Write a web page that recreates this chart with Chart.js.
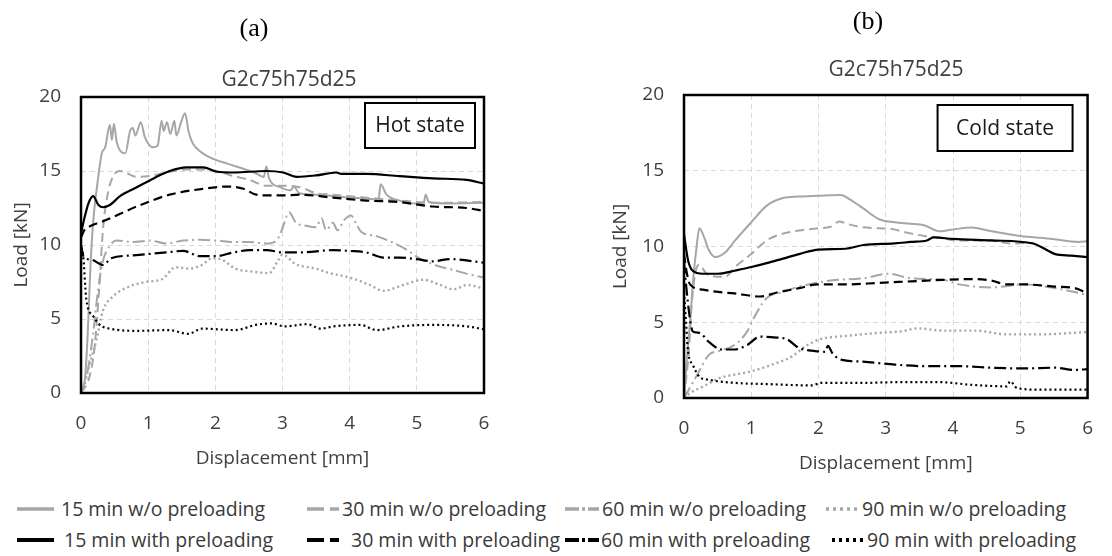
<!DOCTYPE html>
<html>
<head>
<meta charset="utf-8">
<script src="https://cdn.jsdelivr.net/npm/chart.js@4.4.1/dist/chart.umd.min.js"></script>
<style>
  html, body { margin: 0; padding: 0; background: #fff; }
  body { width: 1112px; height: 556px; position: relative; overflow: hidden;
         font-family: 'Open Sans', sans-serif; color: #404040; }
  canvas { position: absolute; top: 0; }
  .tag { position: absolute; transform: translate(-50%, -50%); white-space: nowrap;
         font-family: 'Liberation Serif', 'Times New Roman', serif; font-size: 26px; color: #000; }
  .ttl { position: absolute; transform: translate(-50%, -50%); white-space: nowrap;
         font-size: 21px; color: #404040; }
  .sw { position: absolute; }
  .lt { position: absolute; white-space: nowrap; font-size: 19.5px; line-height: 28px; color: #3a3a3a; }
</style>
</head>
<body>
<canvas id="hot" width="556" height="480" style="left:0"></canvas>
<canvas id="cold" width="556" height="485" style="left:556px"></canvas>
<div id="deco"></div>

<script>
// ---- axis ticks and labels ----
const dispTicks = [0, 1, 2, 3, 4, 5, 6];          // Displacement [mm]
const loadTicks = [0, 5, 10, 15, 20];             // Load [kN]
const panelTags = ['(a)', '(b)'];
const specimen = 'G2c75h75d25';
const stateLabels = ['Hot state', 'Cold state'];
const durations = ['15', '30', '60', '90'];
const nameWithout = ['15 min w/o preloading', '30 min w/o preloading', '60 min w/o preloading', '90 min w/o preloading'];
const nameWith = ['15 min with preloading', '30 min with preloading', '60 min with preloading', '90 min with preloading'];

// ---- hot state: [displacement mm, load kN] ----
const hot15wo = [[0,0],[0.06,1],[0.1,4],[0.14,8.5],[0.18,11.5],[0.24,14],[0.31,16.2],[0.36,16.6],[0.43,18.1],[0.46,17.1],[0.49,18.2],[0.53,17.0],[0.66,16.2],[0.73,17.7],[0.77,17.9],[0.81,17.4],[0.89,18.3],[0.95,17.3],[1.07,16.6],[1.14,16.7],[1.2,18.4],[1.23,17.7],[1.28,18.3],[1.33,17.5],[1.39,18.4],[1.42,17.4],[1.49,18.3],[1.55,18.9],[1.6,17.7],[1.66,16.9],[1.78,16.3],[1.98,15.8],[2.18,15.5],[2.38,15.2],[2.58,14.9],[2.72,14.6],[2.76,15.3],[2.8,14.5],[2.97,13.9],[3.12,13.7],[3.17,13.95],[3.25,13.5],[3.5,13.4],[3.75,13.3],[4.0,13.2],[4.25,13.15],[4.43,13.05],[4.46,14.1],[4.55,13.4],[4.74,13.0],[4.98,12.8],[5.1,12.8],[5.13,13.4],[5.18,12.9],[5.5,12.8],[6,12.85]];
const hot30wo = [[0,0],[0.12,1],[0.2,3],[0.27,7],[0.33,11.2],[0.41,13.7],[0.5,14.8],[0.58,15.0],[0.83,14.6],[1.07,14.7],[1.32,14.95],[1.57,15.1],[1.82,15.1],[2.02,15.0],[2.27,14.65],[2.51,14.4],[2.76,14.0],[3.01,14.0],[3.26,13.9],[3.5,13.5],[3.75,13.4],[4.0,13.3],[4.25,13.2],[4.74,13.0],[5.24,12.85],[6,12.9]];
const hot60wo = [[0,0],[0.1,1.5],[0.18,4],[0.25,6.8],[0.32,8.8],[0.42,9.9],[0.53,10.3],[0.78,10.2],[1.03,10.3],[1.27,10.1],[1.52,10.3],[1.77,10.35],[2.02,10.3],[2.27,10.2],[2.51,10.2],[2.76,10.1],[2.91,10.3],[2.98,10.9],[3.1,12.2],[3.2,11.5],[3.35,11.3],[3.5,11.2],[3.58,11.8],[3.65,11.0],[3.75,11.5],[3.82,11.0],[3.92,11.7],[4.02,12.0],[4.1,11.4],[4.17,10.9],[4.4,10.6],[4.65,10.15],[4.84,9.7],[5.04,9.1],[5.3,8.6],[5.55,8.3],[5.75,8.05],[6,7.8]];
const hot90wo = [[0,0],[0.05,0.5],[0.08,1.1],[0.15,2.3],[0.23,3.6],[0.33,5.6],[0.47,6.5],[0.67,7.1],[0.96,7.5],[1.21,7.7],[1.41,8.5],[1.61,8.4],[1.8,8.65],[1.95,9.1],[2.1,9.0],[2.3,8.4],[2.55,8.2],[2.8,8.1],[2.94,9.0],[3.0,9.35],[3.2,8.7],[3.5,8.4],[3.7,8.1],[4.0,7.8],[4.3,7.3],[4.5,6.9],[4.8,7.3],[5.1,7.65],[5.35,7.3],[5.55,7.0],[5.75,7.3],[6,7.05]];
const hot15w = [[0,10.8],[0.05,11.8],[0.11,12.8],[0.18,13.3],[0.26,12.7],[0.33,12.55],[0.43,12.7],[0.58,13.3],[0.83,13.9],[1.08,14.5],[1.32,15.0],[1.57,15.25],[1.82,15.25],[2.02,14.95],[2.27,14.9],[2.76,15.0],[3.01,14.9],[3.21,14.6],[3.5,14.7],[3.8,14.9],[3.88,14.8],[4.25,14.8],[4.74,14.65],[5.24,14.5],[5.74,14.4],[6,14.15]];
const hot30w = [[0,10.5],[0.05,11.0],[0.15,11.3],[0.33,11.6],[0.83,12.6],[1.32,13.4],[1.82,13.8],[2.17,13.95],[2.42,13.8],[2.61,13.4],[2.81,13.35],[3.01,13.35],[3.26,13.4],[3.75,13.2],[4.25,13.0],[4.74,12.9],[5.24,12.6],[5.74,12.5],[6,12.3]];
const hot60w = [[0,10.0],[0.04,9.2],[0.16,9.0],[0.33,8.65],[0.45,9.1],[0.78,9.3],[1.27,9.5],[1.52,9.6],[1.77,9.25],[2.02,9.25],[2.27,9.5],[2.51,9.65],[2.76,9.65],[3.01,9.5],[3.26,9.5],[3.75,9.65],[4.0,9.6],[4.25,9.5],[4.5,9.15],[4.74,9.15],[4.99,9.05],[5.24,8.9],[5.49,9.05],[6,8.8]];
const hot90w = [[0,9.8],[0.03,9.4],[0.08,6.3],[0.18,5.2],[0.28,4.6],[0.43,4.35],[0.82,4.2],[1.31,4.25],[1.6,4.0],[1.8,4.35],[2.3,4.25],[2.6,4.6],[2.84,4.7],[3.03,4.5],[3.37,4.65],[3.57,4.35],[3.76,4.5],[4.16,4.6],[4.4,4.25],[4.75,4.5],[5.25,4.6],[5.75,4.5],[6,4.3]];

// ---- cold state: [displacement mm, load kN] ----
const cold15wo = [[0,0],[0.05,3],[0.09,5],[0.14,8],[0.18,9.7],[0.23,11.2],[0.3,10.6],[0.37,9.75],[0.47,9.3],[0.61,9.6],[0.76,10.4],[1.0,11.6],[1.23,12.7],[1.47,13.2],[1.71,13.3],[2.0,13.35],[2.33,13.4],[2.47,13.1],[2.67,12.5],[2.9,11.8],[3.13,11.6],[3.37,11.5],[3.57,11.4],[3.8,11.0],[4.04,11.15],[4.28,11.25],[4.52,11.05],[5.0,10.7],[5.48,10.5],[5.86,10.3],[6,10.35]];
const cold30wo = [[0,0],[0.07,3],[0.12,6.5],[0.18,8.5],[0.23,8.8],[0.3,8.4],[0.37,8.1],[0.61,8.0],[0.76,8.65],[1.0,9.5],[1.23,10.4],[1.47,10.85],[1.71,11.05],[2.0,11.2],[2.18,11.3],[2.31,11.65],[2.42,11.5],[2.61,11.3],[2.9,11.2],[3.09,11.15],[3.33,10.9],[3.57,10.7],[3.8,10.6],[4.04,10.4],[4.52,10.4],[4.86,10.2],[5.2,10.25]];
const cold60wo = [[0,0],[0.18,1.4],[0.37,2.85],[0.52,3.1],[0.75,3.5],[0.94,4.4],[1.04,5.3],[1.23,6.6],[1.47,7.0],[1.71,7.35],[2.18,7.75],[2.66,7.9],[3.04,8.2],[3.38,7.9],[3.85,7.8],[4.09,7.5],[4.57,7.3],[5.05,7.5],[5.52,7.25],[6,6.8]];
const cold90wo = [[0,0],[0.1,0.35],[0.3,0.8],[0.52,1.3],[0.99,1.75],[1.37,2.3],[1.61,2.75],[1.8,3.4],[2.04,3.9],[2.42,4.1],[2.9,4.3],[3.23,4.4],[3.47,4.6],[3.85,4.45],[4.33,4.45],[4.8,4.2],[5.28,4.2],[6,4.35]];
const cold15w = [[0,10.8],[0.06,9.1],[0.13,8.4],[0.28,8.2],[0.5,8.2],[0.75,8.4],[1.0,8.65],[1.23,8.9],[1.47,9.2],[1.71,9.5],[2.0,9.8],[2.4,9.85],[2.67,10.1],[3.13,10.2],[3.37,10.3],[3.61,10.4],[3.71,10.6],[4.0,10.5],[4.57,10.4],[5.19,10.2],[5.38,9.8],[5.52,9.5],[5.76,9.4],[6,9.3]];
const cold30w = [[0,9.5],[0.04,8.3],[0.09,7.5],[0.28,7.15],[0.51,7.0],[0.75,6.9],[1.13,6.7],[1.37,6.95],[1.71,7.25],[1.99,7.5],[2.42,7.5],[2.9,7.6],[3.38,7.7],[3.85,7.8],[4.33,7.85],[4.57,7.75],[4.8,7.5],[5.05,7.5],[5.52,7.35],[5.81,7.25],[6,6.9]];
const cold60w = [[0,9.0],[0.03,7.5],[0.08,5.5],[0.13,4.4],[0.23,4.3],[0.37,3.7],[0.56,3.2],[0.75,3.2],[0.94,3.5],[1.13,4.05],[1.33,4.0],[1.52,3.9],[1.71,3.3],[1.95,3.1],[2.1,3.05],[2.14,3.45],[2.2,3.0],[2.3,2.6],[2.45,2.45],[2.66,2.4],[3.14,2.2],[3.61,2.1],[4.09,2.1],[4.57,2.0],[5.05,1.95],[5.52,2.0],[5.81,1.85],[6,1.9]];
const cold90w = [[0,7.0],[0.03,5.0],[0.06,3.1],[0.13,2.2],[0.23,1.4],[0.37,1.2],[0.75,1.0],[1.23,0.92],[1.9,0.83],[2.04,1.0],[2.66,1.0],[3.23,1.05],[3.76,1.05],[4.33,0.85],[4.8,0.77],[4.85,1.1],[4.95,0.66],[5.28,0.55],[6,0.55]];

// ---- line styles per heating duration ----
const GREY = '#a6a6a6', BLACK = '#000000', TEXT = '#404040';
const dashByDuration = { '15': [], '30': [9, 5], '60': [12, 4, 2, 4], '90': [2, 3] };
const legendDash = { '15': '', '30': '17 6 9 40', '60': '14 3 3 3 12 40', '90': '3 4' };

function lineSet(points, dur, preloaded) {
  return {
    data: points.map(([x, y]) => ({ x, y })),
    borderColor: preloaded ? BLACK : GREY,
    borderWidth: preloaded ? 2.2 : (dur === '90' ? 2.4 : 2),
    borderDash: dashByDuration[dur],
    pointRadius: 0,
    fill: false,
    cubicInterpolationMode: 'monotone'
  };
}

// outer frame of the plot area and the state label box
const framePlugin = {
  id: 'frame',
  afterDatasetsDraw(chart, args, opts) {
    const { ctx, chartArea: a } = chart;
    ctx.save();
    ctx.strokeStyle = '#000';
    ctx.lineWidth = 2.5;
    ctx.strokeRect(a.left, a.top, a.right - a.left, a.bottom - a.top);
    const bx = a.right - opts.inset[0] - opts.box[0];
    const by = a.top + opts.inset[1];
    ctx.fillStyle = '#fff';
    ctx.fillRect(bx, by, opts.box[0], opts.box[1]);
    ctx.lineWidth = 2;
    ctx.strokeRect(bx, by, opts.box[0], opts.box[1]);
    ctx.fillStyle = '#1a1a1a';
    ctx.font = '21px "Open Sans"';
    ctx.textAlign = 'center';
    ctx.textBaseline = 'middle';
    ctx.fillText(opts.label, bx + opts.box[0] / 2, by + opts.box[1] / 2 + 1);
    ctx.restore();
  }
};

function buildChart(id, sets, label, geo) {
  const tickFont = { family: 'Open Sans', size: 19 };
  const titleFont = { family: 'Open Sans', size: 19 };
  return new Chart(document.getElementById(id), {
    type: 'line',
    data: { datasets: sets },
    options: {
      responsive: false,
      animation: false,
      events: [],
      layout: { padding: { top: geo.top, right: geo.right, left: 0, bottom: 0 } },
      plugins: {
        legend: { display: false },
        tooltip: { enabled: false },
        frame: { label, inset: geo.inset, box: geo.box }
      },
      scales: {
        x: {
          type: 'linear',
          min: dispTicks[0], max: dispTicks[dispTicks.length - 1],
          ticks: { stepSize: dispTicks[1] - dispTicks[0], color: TEXT, font: tickFont, padding: 19, maxRotation: 0 },
          grid: { color: '#d9d9d9', lineWidth: 1, drawTicks: false },
          border: { display: false, dash: [5, 4] },
          title: { display: true, text: 'Displacement [mm]', color: TEXT, font: titleFont, padding: { top: 0, bottom: geo.xTitlePad } },
          afterFit(s) { s.height = geo.xHeight; }
        },
        y: {
          min: loadTicks[0], max: loadTicks[loadTicks.length - 1],
          ticks: { stepSize: loadTicks[1] - loadTicks[0], color: TEXT, font: tickFont, padding: 20 },
          grid: { color: '#d9d9d9', lineWidth: 1, drawTicks: false },
          border: { display: false, dash: [5, 4] },
          title: { display: true, text: 'Load [kN]', color: TEXT, font: titleFont, padding: { top: geo.yTitlePad, bottom: 0 } },
          afterFit(s) { s.width = geo.yWidth; }
        }
      }
    },
    plugins: [framePlugin]
  });
}

const hotSets = [
  lineSet(hot15w, '15', true), lineSet(hot30w, '30', true), lineSet(hot60w, '60', true), lineSet(hot90w, '90', true),
  lineSet(hot15wo, '15', false), lineSet(hot30wo, '30', false), lineSet(hot60wo, '60', false), lineSet(hot90wo, '90', false)
];
const coldSets = [
  lineSet(cold15w, '15', true), lineSet(cold30w, '30', true), lineSet(cold60w, '60', true), lineSet(cold90w, '90', true),
  lineSet(cold15wo, '15', false), lineSet(cold30wo, '30', false), lineSet(cold60wo, '60', false), lineSet(cold90wo, '90', false)
];

buildChart('hot', hotSets, stateLabels[0],
  { top: 97, right: 72, yWidth: 81, xHeight: 87, xTitlePad: 10, yTitlePad: 10, inset: [9, 6], box: [110, 45] });
buildChart('cold', coldSets, stateLabels[1],
  { top: 95, right: 9, yWidth: 128, xHeight: 87, xTitlePad: 10, yTitlePad: 53, inset: [15, 10], box: [135, 46] });

// ---- panel tags, specimen titles and the shared legend ----
const deco = document.getElementById('deco');
function place(cls, text, x, y) {
  const d = document.createElement('div');
  d.className = cls; d.textContent = text;
  d.style.left = x + 'px'; d.style.top = y + 'px';
  deco.appendChild(d);
}
place('tag', panelTags[0], 254, 28);
place('tag', panelTags[1], 868, 21);
place('ttl', specimen, 289, 78);
place('ttl', specimen, 896, 68);

const legendRows = [
  { names: nameWithout, color: GREY, width: 3.5, y: 509, slots: [[17, 37, 61], [307, 32, 342], [565, 34, 602], [826, 32, 862]] },
  { names: nameWith, color: BLACK, width: 4, y: 540, slots: [[17, 37, 64], [307, 32, 351], [565, 34, 601], [832, 34, 867]] }
];
const SVGNS = 'http://www.w3.org/2000/svg';
legendRows.forEach(row => {
  row.names.forEach((name, i) => {
    const [sx, sl, tx] = row.slots[i];
    const svg = document.createElementNS(SVGNS, 'svg');
    svg.setAttribute('width', sl); svg.setAttribute('height', 10);
    svg.setAttribute('class', 'sw');
    svg.style.left = sx + 'px'; svg.style.top = (row.y - 5) + 'px';
    const ln = document.createElementNS(SVGNS, 'line');
    ln.setAttribute('x1', 0); ln.setAttribute('x2', sl);
    ln.setAttribute('y1', 5); ln.setAttribute('y2', 5);
    ln.setAttribute('stroke', row.color);
    ln.setAttribute('stroke-width', row.width);
    const dash = legendDash[durations[i]];
    if (dash) ln.setAttribute('stroke-dasharray', dash);
    svg.appendChild(ln);
    deco.appendChild(svg);
    const t = document.createElement('div');
    t.className = 'lt'; t.textContent = name;
    t.style.left = tx + 'px'; t.style.top = (row.y - 14) + 'px';
    deco.appendChild(t);
  });
});
</script>
</body>
</html>
